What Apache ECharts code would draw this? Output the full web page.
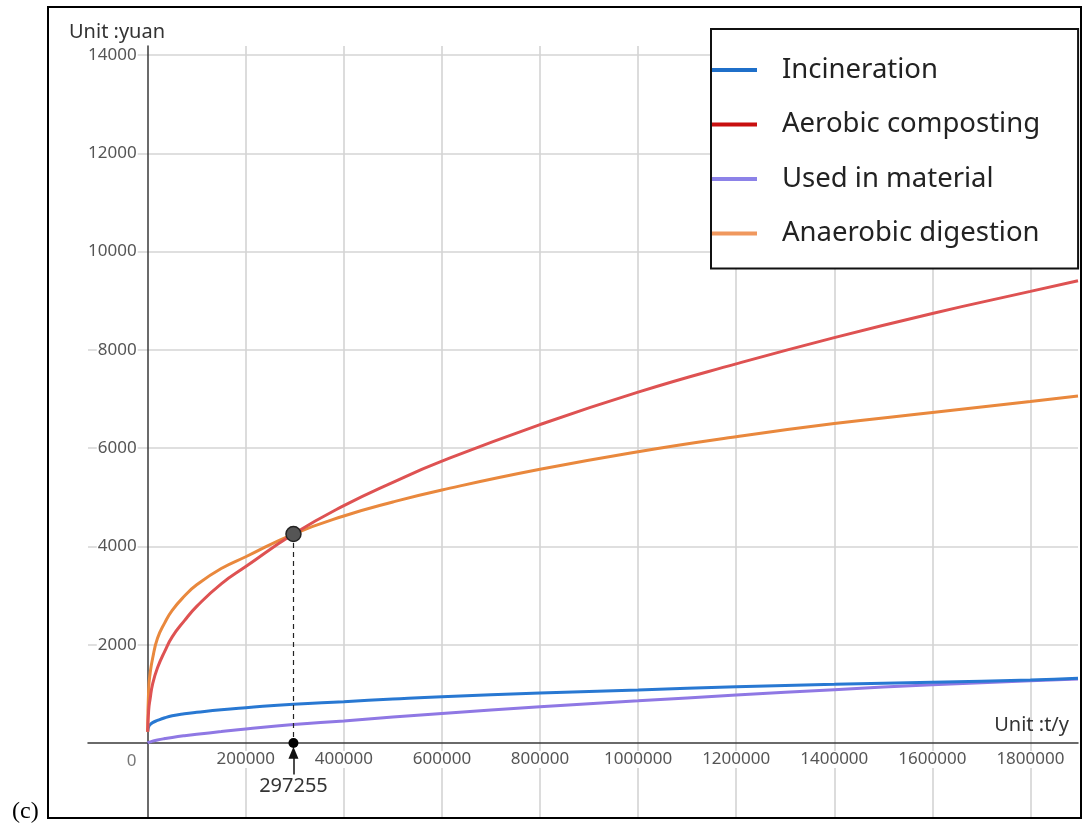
<!DOCTYPE html>
<html>
<head>
<meta charset="utf-8">
<script src="https://cdn.jsdelivr.net/npm/echarts@6/dist/echarts.min.js"></script>
<style>
  html, body { margin: 0; padding: 0; background: #fff; }
  #chart { width: 1083px; height: 825px; }
</style>
</head>
<body>
<div id="chart"></div>
<script>
// Treatment scale (t/y) at which each cost curve is sampled
const scale = [0, 2000, 5000, 10000, 20000, 35000, 50000, 75000, 100000, 150000, 200000, 297255,
  400000, 500000, 600000, 800000, 1000000, 1200000, 1400000, 1600000, 1800000, 1897000];

// Cost (yuan) for each treatment route
const incineration = [230, 330, 375, 415, 460, 515, 555, 595, 625, 678, 719, 790,
  841, 895, 943, 1017, 1078, 1146, 1194, 1238, 1280, 1316];
const aerobicComposting = [230, 665, 900, 1200, 1530, 1870, 2160, 2490, 2780, 3240, 3590, 4253,
  4830, 5305, 5735, 6480, 7140, 7715, 8250, 8742, 9190, 9408];
const usedInMaterial = [0, 12, 22, 38, 62, 90, 114, 148, 178, 232, 285, 375,
  448, 528, 602, 740, 858, 975, 1085, 1185, 1265, 1303];
const anaerobicDigestion = [230, 1100, 1420, 1720, 2130, 2450, 2700, 2990, 3220, 3550, 3790, 4253,
  4620, 4905, 5149, 5570, 5928, 6233, 6500, 6725, 6950, 7062];

// Break-even point of aerobic composting and anaerobic digestion
const crossX = 297255;
const crossY = 4253;

// Axis ranges and tick labels
const xRange = [-121700, 1897000];
const yRange = [-1526, 14184];
const xTicks = [200000, 400000, 600000, 800000, 1000000, 1200000, 1400000, 1600000, 1800000];
const yTicks = [2000, 4000, 6000, 8000, 10000, 12000, 14000];

const pairs = (ys) => scale.map((x, i) => [x, ys[i]]);

// Plot area and the shift that puts each axis through the origin
const W = 1083, H = 825;
const gridBox = { left: 88, right: 5, top: 46, bottom: 7 };
const gridW = W - gridBox.left - gridBox.right;
const gridH = H - gridBox.top - gridBox.bottom;
const xAxisShift = -gridH * (0 - yRange[0]) / (yRange[1] - yRange[0]);
const yAxisShift = -gridW * (0 - xRange[0]) / (xRange[1] - xRange[0]);

const chart = echarts.init(document.getElementById('chart'), null, { renderer: 'canvas' });

const labelFont = { fontFamily: 'Noto Sans', fontSize: 17, color: '#555' };
const plain = (v) => String(v);

function curve(name, ys, color, z) {
  return {
    type: 'line', name: name, data: pairs(ys),
    showSymbol: false, smooth: 0.5,
    lineStyle: { color: color, width: 3 },
    itemStyle: { color: color },
    z: z, silent: true
  };
}

chart.setOption({
  animation: false,
  backgroundColor: '#fff',
  grid: Object.assign({ containLabel: false }, gridBox),
  title: [
    { text: 'Unit :yuan', left: 64, top: 17,
      textStyle: { fontFamily: 'Noto Sans', fontSize: 20, fontWeight: 'normal', color: '#333' } },
    { text: 'Unit :t/y', right: 9, top: 710,
      textStyle: { fontFamily: 'Noto Sans', fontSize: 20, fontWeight: 'normal', color: '#333' } },
    { text: '(c)', left: 7, top: 795,
      textStyle: { fontFamily: 'Liberation Serif', fontSize: 24, fontWeight: 'normal', color: '#000' } }
  ],
  legend: {
    data: [
      { name: 'Incineration', itemStyle: { color: '#1f6fc9' } },
      { name: 'Aerobic composting', itemStyle: { color: '#c80f0f' } },
      { name: 'Used in material', itemStyle: { color: '#8c82e8' } },
      { name: 'Anaerobic digestion', itemStyle: { color: '#f0985e' } }
    ],
    orient: 'vertical', left: 711, top: 29,
    icon: 'rect', itemWidth: 45, itemHeight: 4, itemGap: 24.5,
    padding: [26, 38, 20, 1],
    borderColor: '#111', borderWidth: 2, backgroundColor: '#fff',
    selectedMode: false,
    textStyle: { fontFamily: 'Noto Sans', fontSize: 27.5, color: '#222', lineHeight: 30, padding: [0, 0, 0, 20] },
    z: 20
  },
  xAxis: {
    type: 'value', min: xRange[0], max: xRange[1],
    position: 'bottom', offset: xAxisShift,
    axisLine: { onZero: false, lineStyle: { color: '#3a3a3a', width: 1.5 } },
    axisTick: { show: false, customValues: xTicks },
    axisLabel: Object.assign({ customValues: xTicks, formatter: plain, margin: 8,
      backgroundColor: '#fff', padding: [0, 2] }, labelFont),
    splitLine: { show: true, lineStyle: { color: '#d4d4d4', width: 1.6 } }
  },
  yAxis: {
    type: 'value', min: yRange[0], max: yRange[1],
    position: 'left', offset: yAxisShift,
    axisLine: { onZero: false, lineStyle: { color: '#3a3a3a', width: 1.5 } },
    axisTick: { show: false, customValues: yTicks },
    axisLabel: Object.assign({ customValues: yTicks, formatter: plain, margin: 10,
      backgroundColor: '#fff', padding: [0, 1] }, labelFont),
    splitLine: { show: true, lineStyle: { color: '#d4d4d4', width: 1.6 } }
  },
  series: [
    curve('Used in material', usedInMaterial, '#8f78e4', 3),
    curve('Incineration', incineration, '#2878d2', 4),
    curve('Anaerobic digestion', anaerobicDigestion, '#e9883d', 5),
    curve('Aerobic composting', aerobicComposting, '#de5252', 6),
    {
      // origin label
      type: 'scatter', data: [[0, 0]], symbolSize: 0, silent: true, z: 7,
      label: Object.assign({ show: true, position: [-16, 18], align: 'center', verticalAlign: 'middle',
        formatter: '0' }, labelFont)
    },
    {
      // break-even point with its dashed drop line
      type: 'scatter', data: [[crossX, crossY]], symbolSize: 15, silent: true, z: 10,
      itemStyle: { color: '#555', borderColor: '#222', borderWidth: 1.5, opacity: 1 },
      markLine: {
        silent: true, animation: false, symbol: ['none', 'none'],
        label: { show: false },
        lineStyle: { type: [5, 4], color: '#222', width: 1.2 },
        data: [[{ coord: [crossX, crossY] }, { coord: [crossX, 0] }]]
      }
    },
    {
      // foot of the drop line, its value and the arrow pointing at it
      type: 'scatter', data: [[crossX, 0]], symbolSize: 10, silent: true, z: 10,
      itemStyle: { color: '#000', opacity: 1 },
      label: { show: true, position: [5, 48], align: 'center', verticalAlign: 'middle',
        formatter: String(crossX), fontFamily: 'Noto Sans', fontSize: 20, color: '#333' },
      markLine: {
        silent: true, animation: false, symbol: ['none', 'triangle'], symbolSize: [10, 12],
        label: { show: false },
        lineStyle: { type: 'solid', color: '#111', width: 1.5 },
        data: [[{ coord: [crossX, -640] }, { coord: [crossX, -200] }]]
      }
    }
  ],
  graphic: [
    { type: 'rect', z: 100, silent: true,
      shape: { x: 48, y: 7, width: 1033, height: 811 },
      style: { fill: null, stroke: '#000', lineWidth: 2 } }
  ]
});
</script>
</body>
</html>
